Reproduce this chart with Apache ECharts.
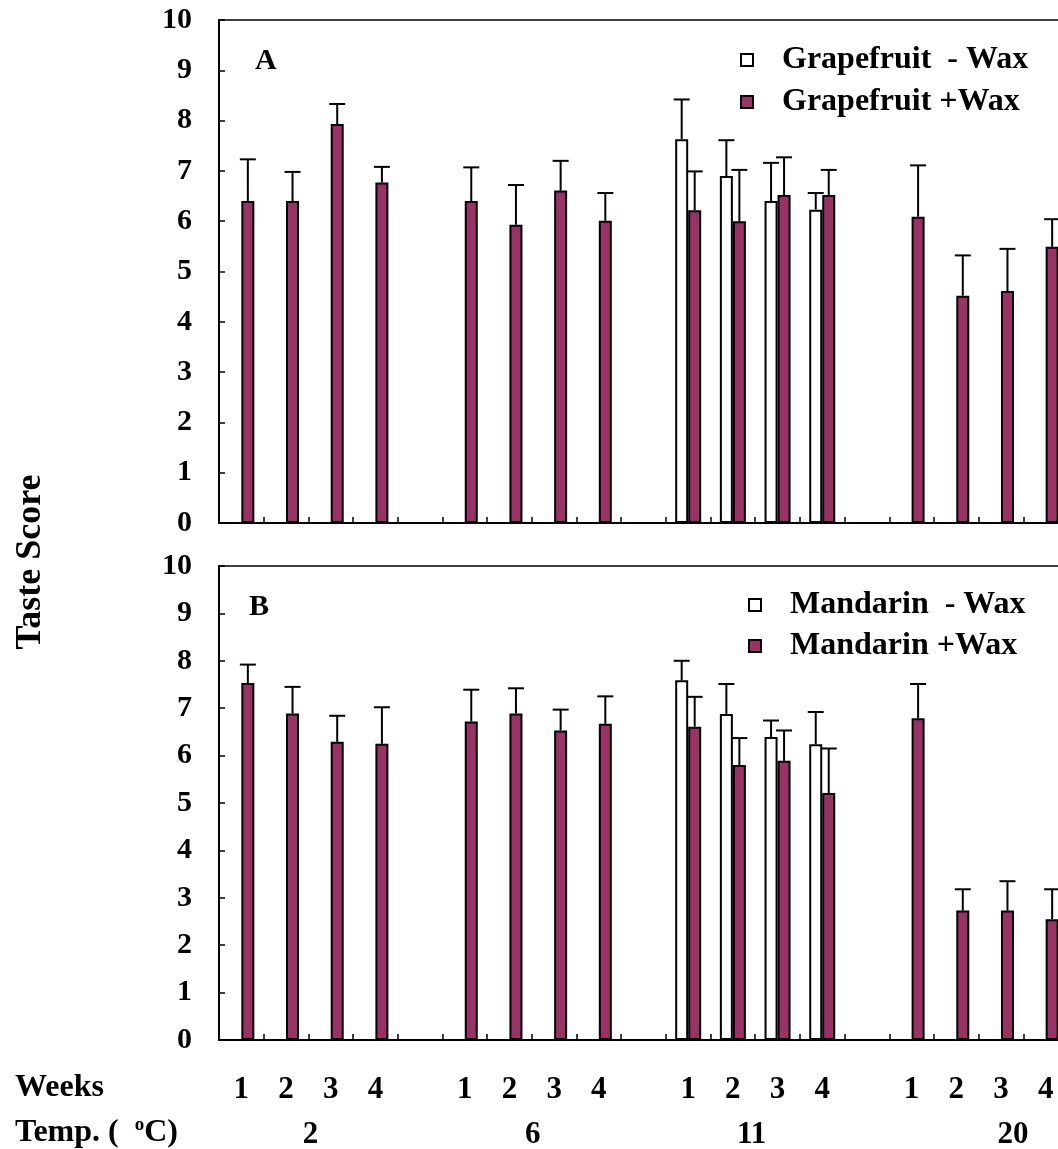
<!DOCTYPE html>
<html>
<head>
<meta charset="utf-8">
<script src="https://cdn.jsdelivr.net/npm/echarts@6/dist/echarts.min.js"></script>
<style>
  html, body { margin: 0; padding: 0; background: #fff; }
  #chart { width: 1058px; height: 1149px; }
</style>
</head>
<body>
<div id="chart"></div>
<script>
// categories: 4 weeks per storage temperature, one empty slot between groups
var weeks = ['1', '2', '3', '4', '', '1', '2', '3', '4', '', '1', '2', '3', '4', '', '1', '2', '3', '4'];
var tempLabels = ['2', '6', '11', '20'];
var tempPos = [2.05, 7.02, 11.92, 17.77];   // label centre, in category slots

// panel A - grapefruit
var grapeNoWax    = [null, null, null, null, null, null, null, null, null, null, 7.63, 6.90, 6.40, 6.23, null, null, null, null, null];
var grapeNoWaxErr = [null, null, null, null, null, null, null, null, null, null, 0.79, 0.71, 0.76, 0.33, null, null, null, null, null];
var grapeWax      = [6.40, 6.40, 7.93, 6.77, null, 6.40, 5.93, 6.61, 6.01, null, 6.22, 6.00, 6.52, 6.52, null, 6.09, 4.52, 4.61, 5.49];
var grapeWaxErr   = [0.83, 0.58, 0.40, 0.31, null, 0.67, 0.79, 0.59, 0.55, null, 0.77, 1.02, 0.75, 0.50, null, 1.02, 0.80, 0.84, 0.55];

// panel B - mandarin
var mandNoWax    = [null, null, null, null, null, null, null, null, null, null, 7.59, 6.88, 6.39, 6.24, null, null, null, null, null];
var mandNoWaxErr = [null, null, null, null, null, null, null, null, null, null, 0.41, 0.63, 0.35, 0.68, null, null, null, null, null];
var mandWax      = [7.53, 6.89, 6.29, 6.25, null, 6.72, 6.89, 6.53, 6.67, null, 6.61, 5.80, 5.89, 5.21, null, 6.79, 2.73, 2.73, 2.55];
var mandWaxErr   = [0.39, 0.56, 0.55, 0.77, null, 0.67, 0.53, 0.44, 0.58, null, 0.63, 0.57, 0.64, 0.94, null, 0.72, 0.45, 0.62, 0.63];

var FONT = '"Liberation Serif", "Times New Roman", serif';
var PLUM = '#993366';
var BAR_W = 13;

var chart = echarts.init(document.getElementById('chart'));

function yAxis(gi) {
  return {
    type: 'value', gridIndex: gi, min: 0, max: 10, interval: 1,
    axisLine: { show: true, lineStyle: { color: '#000', width: 2 } },
    axisTick: { show: true, inside: true, length: 6, lineStyle: { color: '#000', width: 1.5 } },
    axisLabel: { fontFamily: FONT, fontWeight: 'bold', fontSize: 30, color: '#000', margin: 27 },
    splitLine: { show: false }
  };
}

function xAxis(gi, showLabels) {
  return {
    type: 'category', gridIndex: gi, data: weeks,
    axisLine: { show: true, lineStyle: { color: '#000', width: 2 } },
    axisTick: { show: true, inside: true, length: 6, interval: 0, lineStyle: { color: '#000', width: 1.5 } },
    axisLabel: { show: showLabels, interval: 0, fontFamily: FONT, fontWeight: 'bold', fontSize: 31, color: '#000', margin: 34 }
  };
}

function bars(name, gi, data, fill) {
  return {
    name: name, type: 'bar', xAxisIndex: gi, yAxisIndex: gi, data: data,
    barWidth: BAR_W, barGap: '0%',
    itemStyle: { color: fill, borderColor: '#000', borderWidth: 2 }
  };
}

// upward error bars, shifted onto the left / right bar of each pair
function errorBars(gi, vals, errs, shift) {
  var pts = [];
  vals.forEach(function(v, i) {
    if (v != null) pts.push([i, v, v + errs[i]]);
  });
  return {
    type: 'custom', xAxisIndex: gi, yAxisIndex: gi, z: 5, silent: true,
    data: pts,
    renderItem: function(params, api) {
      var lo = api.coord([api.value(0), api.value(1)]);
      var hi = api.coord([api.value(0), api.value(2)]);
      var x = lo[0] + shift;
      var st = { stroke: '#000', lineWidth: 2 };
      return {
        type: 'group',
        children: [
          { type: 'line', shape: { x1: x, y1: lo[1], x2: x, y2: hi[1] }, style: st },
          { type: 'line', shape: { x1: x - 8, y1: hi[1], x2: x + 8, y2: hi[1] }, style: st }
        ]
      };
    }
  };
}

function legend(left, top, gap, names) {
  return {
    data: names, orient: 'vertical', left: left, top: top, padding: 0,
    icon: 'rect', itemWidth: 12, itemHeight: 12, itemGap: gap, selectedMode: false,
    textStyle: { fontFamily: FONT, fontWeight: 'bold', fontSize: 32, lineHeight: 30, color: '#000', padding: [0, 0, 0, 24] }
  };
}

function label(text, x, y, size) {
  return {
    type: 'text', x: x, y: y,
    style: { text: text, fontFamily: FONT, fontWeight: 'bold', fontSize: size, fill: '#000', textVerticalAlign: 'middle' }
  };
}

var option = {
  animation: false,
  backgroundColor: '#fff',
  grid: [
    { left: 219, top: 20, width: 849, height: 503, outerBoundsMode: 'none', show: true, borderColor: '#000', borderWidth: 1.5 },
    { left: 219, top: 566, width: 849, height: 474, outerBoundsMode: 'none', show: true, borderColor: '#000', borderWidth: 1.5 }
  ],
  xAxis: [
    xAxis(0, false),
    xAxis(1, true),
    {
      type: 'value', gridIndex: 1, min: 0, max: 19, position: 'bottom',
      axisLine: { show: false }, axisTick: { show: false }, splitLine: { show: false },
      axisLabel: {
        customValues: tempPos, margin: 79,
        fontFamily: FONT, fontWeight: 'bold', fontSize: 31, color: '#000',
        formatter: function(v) { return tempLabels[tempPos.indexOf(v)] || ''; }
      }
    }
  ],
  yAxis: [yAxis(0), yAxis(1)],
  legend: [
    legend(740, 44, 10, ['Grapefruit  - Wax', 'Grapefruit +Wax']),
    legend(748, 589, 9, ['Mandarin  - Wax', 'Mandarin +Wax'])
  ],
  graphic: [
    label('A', 255, 61, 30),
    label('B', 249, 607, 30),
    label('Weeks', 15, 1088, 32),
    {
      type: 'text', x: 15, y: 1133,
      style: {
        text: 'Temp. (  {sup|o}C)', fontFamily: FONT, fontWeight: 'bold', fontSize: 32, fill: '#000',
        textVerticalAlign: 'middle',
        rich: { sup: { fontFamily: FONT, fontWeight: 'bold', fontSize: 19, padding: [0, 0, 16, 0] } }
      }
    },
    {
      type: 'text', x: 31, y: 562, rotation: Math.PI / 2,
      style: {
        text: 'Taste Score', fontFamily: FONT, fontWeight: 'bold', fontSize: 36, fill: '#000',
        textAlign: 'center', textVerticalAlign: 'middle'
      }
    }
  ],
  series: [
    bars('Grapefruit  - Wax', 0, grapeNoWax, '#fff'),
    bars('Grapefruit +Wax', 0, grapeWax, PLUM),
    errorBars(0, grapeNoWax, grapeNoWaxErr, -BAR_W / 2),
    errorBars(0, grapeWax, grapeWaxErr, BAR_W / 2),
    bars('Mandarin  - Wax', 1, mandNoWax, '#fff'),
    bars('Mandarin +Wax', 1, mandWax, PLUM),
    errorBars(1, mandNoWax, mandNoWaxErr, -BAR_W / 2),
    errorBars(1, mandWax, mandWaxErr, BAR_W / 2)
  ]
};

chart.setOption(option);
</script>
</body>
</html>
